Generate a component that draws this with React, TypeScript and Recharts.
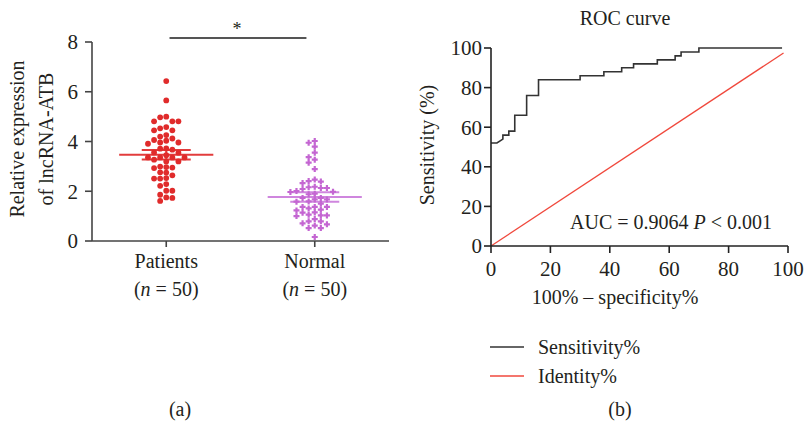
import {
  ScatterChart,
  Scatter,
  LineChart,
  Line,
  XAxis,
  YAxis,
  ReferenceLine,
} from "recharts";

// panel (a): relative expression of lncRNA-ATB
const groups = ["Patients", "Normal"];
const groupSizes = [50, 50];
const patientsValues = [
  6.43, 5.65, 5.0, 4.97, 4.81, 4.81, 4.81, 4.58, 4.53, 4.45, 4.45, 4.26, 4.2,
  4.12, 4.06, 4.03, 3.96, 3.96, 3.91, 3.72, 3.71, 3.67, 3.56, 3.55, 3.45, 3.36,
  3.36, 3.36, 3.36, 3.27, 3.2, 3.2, 2.99, 2.97, 2.95, 2.93, 2.76, 2.75, 2.64,
  2.53, 2.51, 2.51, 2.29, 2.22, 2.02, 2.02, 1.86, 1.75, 1.73, 1.61,
];
const normalValues = [
  4.02, 3.95, 3.79, 3.55, 3.37, 3.27, 3.15, 2.89, 2.47, 2.41, 2.39, 2.33, 2.18,
  2.16, 2.13, 2.13, 2.09, 2.01, 1.98, 1.97, 1.9, 1.88, 1.73, 1.73, 1.67, 1.67,
  1.59, 1.58, 1.5, 1.37, 1.37, 1.37, 1.31, 1.26, 1.23, 1.15, 1.14, 1.06, 1.03,
  1.03, 1.0, 0.88, 0.79, 0.79, 0.71, 0.67, 0.62, 0.52, 0.52, 0.16,
];
const groupMeans = [3.47, 1.77];
const groupSems = [0.19, 0.19];
const expressionTicks = [0, 2, 4, 6, 8];

// panel (b): ROC curve
const rocFpr = [0, 2, 4, 4, 6, 6, 8, 8, 12, 12, 16, 16, 30, 30, 38, 38, 44, 44, 48, 48, 56, 56, 62, 62, 64, 64, 70, 70, 98];
const rocSens = [52, 52, 54, 56, 56, 58, 58, 66, 66, 76, 76, 84, 84, 86, 86, 88, 88, 90, 90, 92, 92, 94, 94, 96, 96, 98, 98, 100, 100];
const identityX = [0, 98.5];
const identityY = [0, 97.5];
const rocTicks = [0, 20, 40, 60, 80, 100];
const legendNames = ["Sensitivity%", "Identity%"];

const FONT = "'Liberation Serif', 'Times New Roman', serif";
const INK = "#231f20";
const RED = "#e02b2b";
const PURPLE = "#c466d2";
const legendColors = ["#333333", "#f0483c"];

// simple column swarm, like the dot plots from prism
function swarm(values: number[], center: number) {
  const placed: { col: number; v: number }[] = [];
  const order = [0, -1, 1, -2, 2, -3, 3, -4, 4, -5, 5];
  return [...values]
    .sort((a, b) => b - a)
    .map((v) => {
      const col =
        order.find((c) => !placed.some((p) => p.col === c && Math.abs(p.v - v) < 0.22)) ?? 0;
      placed.push({ col, v });
      return { x: center + col * 0.041, y: v };
    });
}

const patientsDots = swarm(patientsValues, 1);
const normalDots = swarm(normalValues, 2);
const rocData = rocFpr.map((x, i) => ({ x, y: rocSens[i] }));
const identityData = identityX.map((x, i) => ({ x, y: identityY[i] }));

const RedDot = (p: any) => <circle cx={p.cx} cy={p.cy} r={2.9} fill={RED} />;
const PurplePlus = (p: any) => (
  <path
    d={`M${p.cx - 1.1},${p.cy - 3}h2.2v1.9h1.9v2.2h-1.9v1.9h-2.2v-1.9h-1.9v-2.2h1.9z`}
    fill={PURPLE}
  />
);

function GroupTick(props: any) {
  const { x, y, payload } = props;
  const i = payload.value - 1;
  return (
    <text x={x} y={y} textAnchor="middle" fill={INK} fontSize={20} fontFamily={FONT}>
      <tspan x={x} dy={19}>{groups[i]}</tspan>
      <tspan x={x} dy={28}>
        (<tspan fontStyle="italic">n</tspan> = {groupSizes[i]})
      </tspan>
    </text>
  );
}

const tickStyle = { fontSize: 21, fill: INK, fontFamily: FONT };

function meanLines(idx: number, color: string) {
  const c = idx + 1;
  const m = groupMeans[idx];
  const s = groupSems[idx];
  return [
    <ReferenceLine key={`m${idx}`} segment={[{ x: c - 0.317, y: m }, { x: c + 0.317, y: m }]} stroke={color} strokeWidth={2} />,
    <ReferenceLine key={`h${idx}`} segment={[{ x: c - 0.165, y: m + s }, { x: c + 0.165, y: m + s }]} stroke={color} strokeWidth={2} />,
    <ReferenceLine key={`l${idx}`} segment={[{ x: c - 0.165, y: m - s }, { x: c + 0.165, y: m - s }]} stroke={color} strokeWidth={2} />,
    <ReferenceLine key={`v${idx}`} segment={[{ x: c, y: m - s }, { x: c, y: m + s }]} stroke={color} strokeWidth={2} />,
  ];
}

export default function App() {
  return (
    <div
      style={{
        position: "absolute",
        left: 0,
        top: 0,
        width: 806,
        height: 425,
        background: "#fff",
        overflow: "hidden",
        fontFamily: FONT,
      }}
    >
      <div style={{ position: "absolute", left: 0, top: 0 }}>
        <ScatterChart width={400} height={320} margin={{ top: 42, right: 11, bottom: 0, left: 0 }}>
          <XAxis
            type="number"
            dataKey="x"
            domain={[0.5, 2.5]}
            ticks={[1, 2]}
            tick={GroupTick}
            tickSize={6}
            tickMargin={2}
            height={79}
            stroke="#444"
            strokeWidth={1.6}
          />
          <YAxis
            type="number"
            dataKey="y"
            domain={[0, 8]}
            ticks={expressionTicks}
            tick={tickStyle}
            tickSize={7}
            tickMargin={7}
            width={92}
            stroke="#444"
            strokeWidth={1.6}
          />
          <Scatter data={patientsDots} shape={RedDot} isAnimationActive={false} />
          <Scatter data={normalDots} shape={PurplePlus} isAnimationActive={false} />
          {meanLines(0, "#e23c3c")}
          {meanLines(1, "#cf86de")}
          <ReferenceLine
            segment={[{ x: 1.022, y: 8.16 }, { x: 1.944, y: 8.16 }]}
            stroke="#555"
            strokeWidth={1.8}
            ifOverflow="visible"
          />
        </ScatterChart>
      </div>

      <div style={{ position: "absolute", left: 400, top: 0 }}>
        <LineChart width={406} height={320} margin={{ top: 48, right: 18, bottom: 0, left: 0 }}>
          <XAxis
            type="number"
            dataKey="x"
            domain={[0, 100]}
            ticks={rocTicks}
            tick={tickStyle}
            tickSize={7}
            tickMargin={8}
            height={74}
            stroke="#222"
            strokeWidth={1.6}
          />
          <YAxis
            type="number"
            dataKey="y"
            domain={[0, 100]}
            ticks={rocTicks}
            tick={tickStyle}
            tickSize={7}
            tickMargin={2}
            width={91}
            stroke="#222"
            strokeWidth={1.6}
          />
          <Line data={identityData} dataKey="y" type="linear" stroke={legendColors[1]} strokeWidth={1.3} dot={false} isAnimationActive={false} />
          <Line data={rocData} dataKey="y" type="linear" stroke={legendColors[0]} strokeWidth={1.6} dot={false} isAnimationActive={false} />
        </LineChart>
      </div>

      <svg
        width={806}
        height={425}
        style={{ position: "absolute", left: 0, top: 0, pointerEvents: "none" }}
        fontFamily={FONT}
        fill={INK}
        fontSize={20}
      >
        <text x={237} y={35} textAnchor="middle" fontSize={18}>*</text>
        <text transform="translate(24,139) rotate(-90)" textAnchor="middle">Relative expression</text>
        <text transform="translate(53,139) rotate(-90)" textAnchor="middle">of lncRNA-ATB</text>
        <text x={180} y={416} textAnchor="middle">(a)</text>

        <text x={625} y={25} textAnchor="middle">ROC curve</text>
        <text transform="translate(434,145) rotate(-90)" textAnchor="middle">Sensitivity (%)</text>
        <text x={615} y={304} textAnchor="middle">100% – specificity%</text>
        <text x={570} y={229}>
          AUC = 0.9064 <tspan fontStyle="italic">P</tspan> &lt; 0.001
        </text>
        {legendNames.map((name, i) => (
          <g key={name}>
            <line x1={490} x2={524} y1={347 + i * 29} y2={347 + i * 29} stroke={legendColors[i]} strokeWidth={1.4} />
            <text x={538} y={354 + i * 29}>{name}</text>
          </g>
        ))}
        <text x={620} y={416} textAnchor="middle">(b)</text>
      </svg>
    </div>
  );
}
